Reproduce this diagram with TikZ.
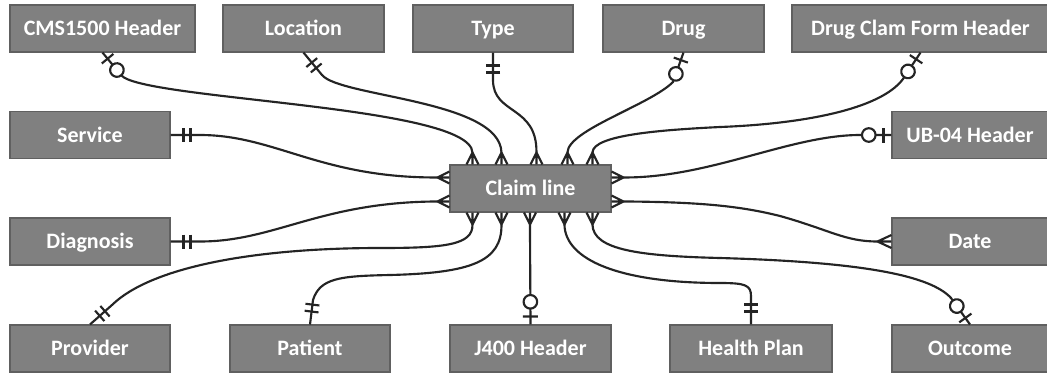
\documentclass[tikz,border=0pt]{standalone}
\usepackage{fontspec}
\setmainfont{Carlito}
\usetikzlibrary{calc,decorations.markings}
\definecolor{boxfill}{RGB}{128,128,128}
\definecolor{boxedge}{RGB}{96,96,96}
\definecolor{linkcol}{RGB}{36,36,36}
\begin{document}
\begin{tikzpicture}[x=0.75pt,y=-0.75pt,
  entity/.style={draw=boxedge, fill=boxfill, line width=0.8pt, text=white,
    font=\fontsize{16.5}{19}\selectfont\bfseries, inner sep=0pt,
    text height=11.2pt, text depth=0pt, minimum height=35.25pt},
  wd/.style={minimum width=#1*0.75pt},
  link/.style={draw=linkcol, line width=1.6pt, line join=round},
  mk/.style={draw=linkcol, line width=1.6pt},
  zeroone/.style={postaction={decorate, decoration={markings,
      mark=at position 6pt with {\draw[mk] (0,-7.5) -- (0,7.5);},
      mark=at position 17pt with {\draw[mk, fill=white] (0,0) circle (6.8);}}}},
  oneone/.style={postaction={decorate, decoration={markings,
      mark=at position 9.75pt with {\draw[mk] (0,-7) -- (0,7);},
      mark=at position 15pt with {\draw[mk] (0,-7) -- (0,7);}}}},
  % crow's feet, named by the side on which the apex lies
  crowA/.pic={\draw[link] (-6,0) -- (0,-12) -- (6,0) (0,-12) -- (0,0);},
  crowB/.pic={\draw[link] (-6,0) -- (0,12) -- (6,0) (0,12) -- (0,0);},
  crowL/.pic={\draw[link] (0,-6) -- (-12,0) -- (0,6) (-12,0) -- (0,0);},
  crowR/.pic={\draw[link] (0,-6) -- (12,0) -- (0,6) (12,0) -- (0,0);},
  crowLL/.pic={\draw[link] (0,-6.5) -- (-14,0) -- (0,6.5) (-14,0) -- (0,0);}
]
\useasboundingbox (0,0) rectangle (1047,372);
\clip (0,0) rectangle (1047,372);
\fill[white] (0,0) rectangle (1047,372);

% entities
\node[entity, wd=185] (cms)  at (102.5,28.5) {CMS1500 Header};
\node[entity, wd=161] (loc)  at (303.5,28.5) {Location};
\node[entity, wd=160] (typ)  at (493,28.5)   {Type};
\node[entity, wd=161] (drug) at (683.5,28.5) {Drug};
\node[entity, wd=257] (dcf)  at (920.5,28.5) {Drug Clam Form Header};
\node[entity, wd=160] (svc)  at (90,135)     {Service};
\node[entity, wd=156] (ub)   at (970,135)    {UB-04 Header};
\node[entity, wd=161] (cl)   at (530.5,188.5){Claim line};
\node[entity, wd=160] (diag) at (90,241.5)   {Diagnosis};
\node[entity, wd=156] (date) at (970,241.5)  {Date};
\node[entity, wd=160] (prov) at (90,348.5)   {Provider};
\node[entity, wd=160] (pat)  at (310,348.5)  {Patient};
\node[entity, wd=161] (jh)   at (530.5,348.5){J400 Header};
\node[entity, wd=162] (hp)   at (751,348.5)  {Health Plan};
\node[entity, wd=156] (out)  at (970,348.5)  {Outcome};

% ports on the claim line box
\coordinate (t1) at ($(cl.north west)+(23,0)$);
\coordinate (t2) at ($(cl.north west)+(52,0)$);
\coordinate (t3) at ($(cl.north west)+(87,0)$);
\coordinate (t4) at ($(cl.north west)+(118,0)$);
\coordinate (t5) at ($(cl.north west)+(143,0)$);
\coordinate (b1) at ($(cl.south west)+(23,0)$);
\coordinate (b2) at ($(cl.south west)+(52,0)$);
\coordinate (b3) at ($(cl.south west)+(80.5,0)$);
\coordinate (b4) at ($(cl.south west)+(115,0)$);
\coordinate (b5) at ($(cl.south west)+(143,0)$);
\coordinate (l1) at ($(cl.north west)+(0,13)$);
\coordinate (l2) at ($(cl.north west)+(0,37)$);
\coordinate (r1) at ($(cl.north east)+(0,13)$);
\coordinate (r2) at ($(cl.north east)+(0,37)$);

% connectors
\draw[link, zeroone] (cms.south) -- (121,75)
  .. controls (140,100) and (470,105) .. ($(t1)+(0,-12)$);
\draw[link, oneone] (loc.south) -- (322,75)
  .. controls (340,97) and (500,100) .. ($(t2)+(0,-12)$);
\draw[link, oneone] (typ.south) -- (493,80)
  .. controls (493,115) and (537,105) .. ($(t3)+(0,-12)$);
\draw[link, zeroone] (drug.south) -- (673,82)
  .. controls (650,105) and (568,130) .. ($(t4)+(0,-12)$);
\draw[link, zeroone] (dcf.south) -- (903,79)
  .. controls (880,110) and (800,124) .. (720,127)
  .. controls (660,130) and (593,135) .. ($(t5)+(0,-12)$);
\draw[link, zeroone] (ub.west) -- (860,135)
  .. controls (790,135) and (710,178) .. ($(r1)+(12,0)$);
\draw[link, oneone] (svc.east) -- (200,135)
  .. controls (275,135) and (320,178) .. ($(l1)+(-12,0)$);
\draw[link, oneone] (diag.east) -- (200,241.5)
  .. controls (275,241.5) and (320,202) .. ($(l2)+(-12,0)$);
\draw[link] ($(r2)+(12,0)$) .. controls (700,202) and (740,206) .. (780,216)
  .. controls (830,230) and (845,241.5) .. ($(date.west)+(-14,0)$);
\draw[link, oneone] (prov.north) -- (112,305)
  .. controls (150,268) and (250,248) .. (380,248)
  .. controls (445,248) and (473,245) .. ($(b1)+(0,12)$);
\draw[link, oneone] (pat.north) -- (313,300)
  .. controls (320,278) and (340,276) .. (390,275)
  .. controls (470,273) and (502,262) .. ($(b2)+(0,12)$);
\draw[link, zeroone] (jh.north) -- ($(b3)+(0,12)$);
\draw[link, oneone] (hp.north) -- (751,296)
  .. controls (751,285) and (745,283) .. (720,283)
  .. controls (620,283) and (565,260) .. ($(b4)+(0,12)$);
\draw[link, zeroone] (out.north) -- (951,298)
  .. controls (930,275) and (860,262) .. (720,258)
  .. controls (640,256) and (593,250) .. ($(b5)+(0,12)$);

% many-ends at the claim line and at the date
\foreach \p in {t1,t2,t3,t4,t5} \pic at (\p) {crowA};
\foreach \p in {b1,b2,b3,b4,b5} \pic at (\p) {crowB};
\foreach \p in {l1,l2} \pic at (\p) {crowL};
\foreach \p in {r1,r2} \pic at (\p) {crowR};
\pic at (date.west) {crowLL};
\end{tikzpicture}
\end{document}
